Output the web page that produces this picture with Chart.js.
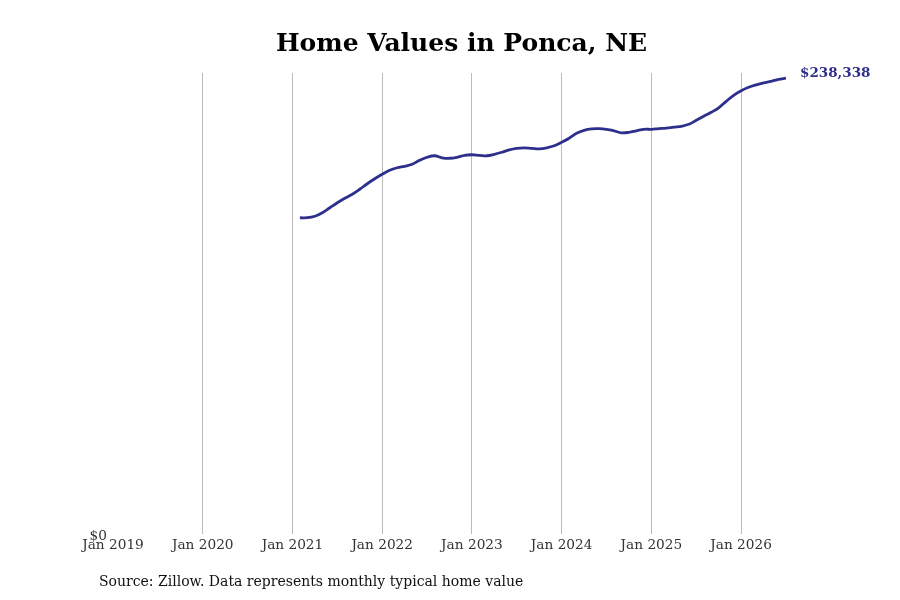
<!DOCTYPE html>
<html>
<head>
<meta charset="utf-8">
<script src="https://cdn.jsdelivr.net/npm/chart.js@4.4.1/dist/chart.umd.min.js"></script>
<style>
  html, body { margin: 0; padding: 0; background: #fff; }
  #wrap { width: 900px; height: 600px; position: relative; }
</style>
</head>
<body>
<div id="wrap"><canvas id="c" width="900" height="600"></canvas></div>
<script>
// Months since Jan 2019 (0 = Jan 2019)
const months = [25,26,27,28,29,30,31,32,33,34,35,36,37,38,39,40,41,42,43,44,45,46,47,48,49,50,51,52,53,54,55,56,57,58,59,60,61,62,63,64,65,66,67,68,69,70,71,72,73,74,75,76,77,78,79,80,81,82,83,84,85,86,87,88,89,90];
const values = [165340,165340,166123,167952,170564,173176,175526,177616,180228,183101,185713,188064,190154,191460,192243,193288,195378,196945,197729,196684,196422,196945,197990,198251,197990,197729,198512,199557,200863,201646,201908,201646,201385,201908,202952,204781,206870,209482,211050,211833,211938,211572,210788,209744,210005,210788,211572,211572,211938,212199,212721,213139,214184,216274,218363,220453,222804,226199,229334,231685,233513,234819,235864,236647,237692,238338];
const tickYears = [2019,2020,2021,2022,2023,2024,2025,2026];
const titleText = 'Home Values in Ponca, NE';
const sourceText = 'Source: Zillow. Data represents monthly typical home value';
const endLabel = '$238,338';

const lineColor = '#2e2e8c';
const serif = "'DejaVu Serif', 'Liberation Serif', serif";

const points = months.map((m, i) => ({ x: m, y: values[i] }));

const extras = {
  id: 'extras',
  afterDraw(chart) {
    const ctx = chart.ctx;
    const xs = chart.scales.x, ys = chart.scales.y;
    const last = points[points.length - 1];
    ctx.save();
    ctx.textBaseline = 'middle';
    ctx.font = "bold 25px " + serif;
    ctx.fillStyle = '#000';
    ctx.textAlign = 'center';
    ctx.fillText(titleText, 461.5, 44.5);
    ctx.font = "bold 13.5px " + serif;
    ctx.fillStyle = lineColor;
    ctx.textAlign = 'left';
    ctx.fillText(endLabel, xs.getPixelForValue(last.x) + 14, ys.getPixelForValue(last.y) - 4.5);
    ctx.font = "14px " + serif;
    ctx.fillStyle = '#111';
    ctx.fillText(sourceText, 99, 582);
    ctx.restore();
  }
};

new Chart(document.getElementById('c'), {
  type: 'line',
  data: {
    datasets: [{
      data: points,
      borderColor: lineColor,
      borderWidth: 2.8,
      pointRadius: 0,
      tension: 0.4,
      fill: false
    }]
  },
  options: {
    responsive: false,
    animation: false,
    devicePixelRatio: 1,
    layout: { padding: { left: 0, right: 114, top: 73, bottom: 45 } },
    plugins: {
      legend: { display: false },
      tooltip: { enabled: false },
      title: { display: false }
    },
    scales: {
      x: {
        type: 'linear',
        min: 0,
        max: 90,
        afterBuildTicks(scale) {
          scale.ticks = tickYears.map(y => ({ value: (y - 2019) * 12 }));
        },
        afterFit(scale) { scale.height = 21; },
        ticks: {
          callback: v => 'Jan ' + (2019 + Math.round(v / 12)),
          color: '#333',
          font: { family: serif, size: 13.7 },
          padding: 3,
          maxRotation: 0,
          autoSkip: false
        },
        grid: {
          drawTicks: false,
          color: c => (c.tick && c.tick.value === 0) ? 'rgba(0,0,0,0)' : '#bbbbbb',
          lineWidth: 1
        },
        border: { display: false }
      },
      y: {
        min: 0,
        max: 241000,
        afterBuildTicks(scale) { scale.ticks = [{ value: 0 }]; },
        afterFit(scale) { scale.width = 113; },
        ticks: {
          callback: v => '$' + v,
          color: '#333',
          font: { family: serif, size: 13.7 },
          padding: 6,
          labelOffset: 2
        },
        grid: { display: false, drawTicks: false },
        border: { display: false }
      }
    }
  },
  plugins: [extras]
});
</script>
</body>
</html>
